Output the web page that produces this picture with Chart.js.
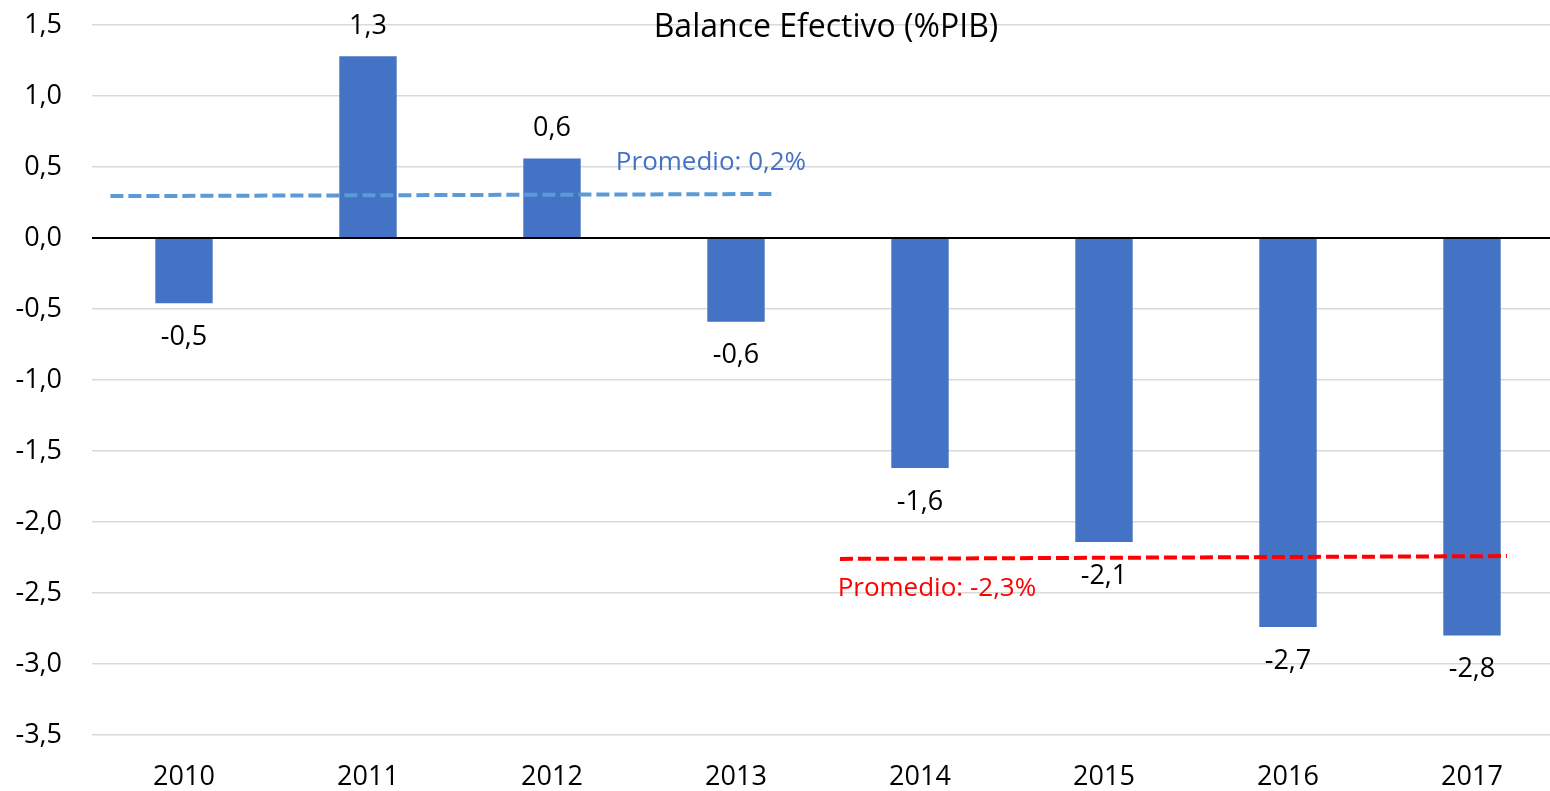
<!DOCTYPE html>
<html>
<head>
<meta charset="utf-8">
<style>
html,body{margin:0;padding:0;background:#fff;overflow:hidden;width:1550px;height:791px}
canvas{display:block}
</style>
<script src="https://cdn.jsdelivr.net/npm/chart.js@4"></script>
</head>
<body>
<canvas id="c" width="1564" height="791"></canvas>
<script>
// ---- data ----
const chartTitle = 'Balance Efectivo (%PIB)';
const categories = ['2010', '2011', '2012', '2013', '2014', '2015', '2016', '2017'];
const balance = [-0.46, 1.28, 0.56, -0.59, -1.62, -2.14, -2.74, -2.80];
// average lines (x in category-index units, y in %PIB)
const avgEarlyX = [-0.40, 3.22];
const avgEarlyY = [0.295, 0.31];
const avgLateX = [3.565, 7.19];
const avgLateY = [-2.26, -2.24];
const avgLabels = ['Promedio: 0,2%', 'Promedio: -2,3%'];
const avgLabelAnchorX = [2.864, 4.092];
const avgLabelAnchorY = [0.533, -2.467];
const yMin = -3.5, yMax = 1.5, yStep = 0.5;

const FONT = 'Open Sans';
const fmt = v => {
  const s = (Math.round(v * 10) / 10).toFixed(1);
  return (s === '-0.0' ? '0.0' : s).replace('.', ',');
};

const overlay = {
  id: 'overlay',
  afterDatasetsDraw(chart) {
    const ctx = chart.ctx;
    const ys = chart.scales.y, x2 = chart.scales.x2;
    const area = chart.chartArea;
    ctx.save();
    // zero line
    const y0 = ys.getPixelForValue(0);
    ctx.strokeStyle = '#000';
    ctx.lineWidth = 2;
    ctx.beginPath();
    ctx.moveTo(area.left, y0);
    ctx.lineTo(area.right, y0);
    ctx.stroke();
    // data labels
    ctx.font = '27px "' + FONT + '"';
    ctx.fillStyle = '#000';
    ctx.textAlign = 'center';
    ctx.textBaseline = 'middle';
    const meta = chart.getDatasetMeta(2);
    meta.data.forEach((bar, i) => {
      const v = balance[i];
      const y = v >= 0 ? bar.y - 30 : bar.y + 34;
      ctx.fillText(fmt(v), bar.x, y);
    });
    // average labels
    ctx.font = '26px "' + FONT + '"';
    const avgColors = ['#4472C4', '#FF0000'];
    avgLabels.forEach((t, i) => {
      ctx.fillStyle = avgColors[i];
      ctx.fillText(t, x2.getPixelForValue(avgLabelAnchorX[i]), ys.getPixelForValue(avgLabelAnchorY[i]));
    });
    // title
    ctx.font = '32px "' + FONT + '"';
    ctx.fillStyle = '#000';
    ctx.fillText(chartTitle, (area.left + area.right) / 2 - 2, 28);
    ctx.restore();
  }
};

new Chart(document.getElementById('c'), {
  data: {
    labels: categories,
    datasets: [
      {
        type: 'line',
        data: avgEarlyX.map((x, i) => ({ x: x, y: avgEarlyY[i] })),
        xAxisID: 'x2', yAxisID: 'y',
        borderColor: '#5B9BD5', borderWidth: 4, borderDash: [13, 5],
        pointRadius: 0, fill: false, order: 0
      },
      {
        type: 'line',
        data: avgLateX.map((x, i) => ({ x: x, y: avgLateY[i] })),
        xAxisID: 'x2', yAxisID: 'y',
        borderColor: '#FF0000', borderWidth: 4, borderDash: [13, 5],
        pointRadius: 0, fill: false, order: 0
      },
      {
        type: 'bar',
        data: balance,
        xAxisID: 'x', yAxisID: 'y',
        backgroundColor: '#4472C4',
        barPercentage: 0.312, categoryPercentage: 1,
        grouped: false,
        order: 1
      }
    ]
  },
  options: {
    responsive: false,
    animation: false,
    layout: { padding: { top: 25, left: 0, right: 0, bottom: 0 } },
    plugins: { legend: { display: false }, tooltip: { enabled: false }, title: { display: false } },
    scales: {
      x: {
        type: 'category', offset: true,
        grid: { display: false, drawTicks: false },
        border: { display: false },
        ticks: { font: { family: FONT, size: 27 }, color: '#000', padding: 26, maxRotation: 0, autoSkip: false },
        afterFit(s) { s.height = 56; s.paddingLeft = 0; s.paddingRight = 0; }
      },
      x2: { type: 'linear', display: false, min: -0.5, max: 7.5 },
      y: {
        min: yMin, max: yMax,
        ticks: { stepSize: yStep, font: { family: FONT, size: 27 }, color: '#000', padding: 30, callback: v => fmt(v) },
        grid: { color: '#d9d9d9', lineWidth: 1.5, drawTicks: false },
        border: { display: false },
        afterFit(s) { s.width = 92; s.paddingTop = 0; s.paddingBottom = 0; }
      }
    }
  },
  plugins: [overlay]
});
</script>
</body>
</html>
